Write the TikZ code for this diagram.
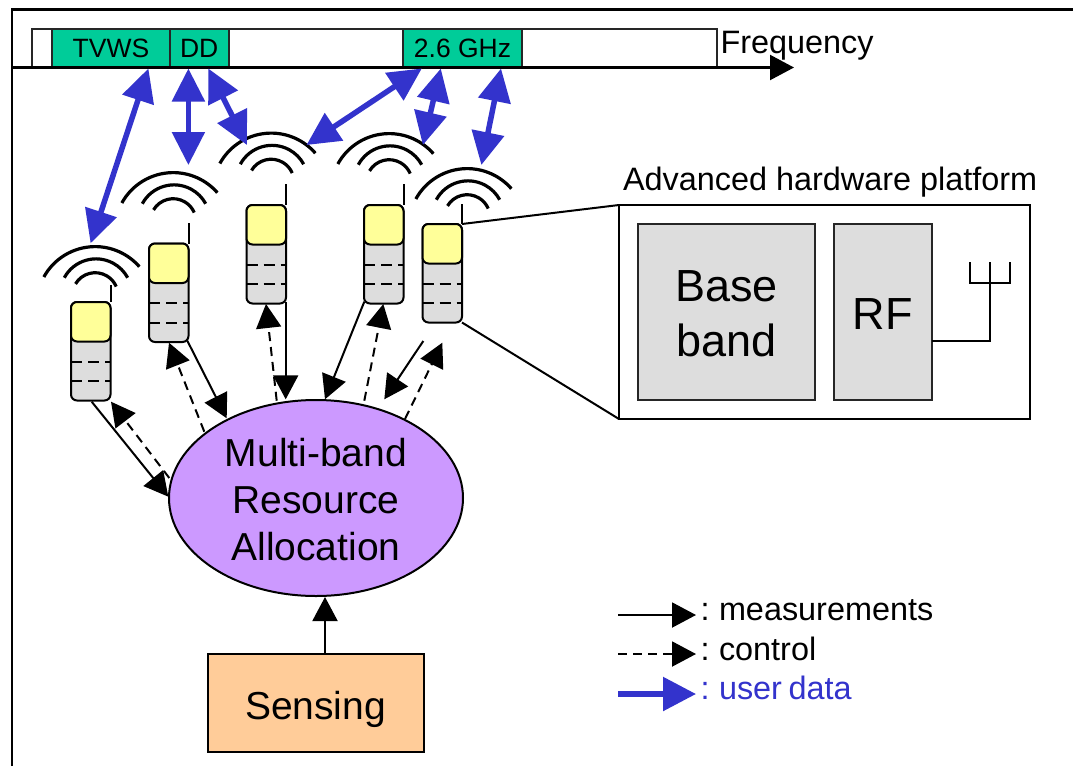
\documentclass[tikz,border=0pt]{standalone}
\usepackage{fontspec}
\setmainfont{Liberation Sans}
\usetikzlibrary{arrows.meta,shapes.geometric}
\definecolor{cgreen}{HTML}{00CC99}
\definecolor{cyellow}{HTML}{FFFF99}
\definecolor{cgray}{HTML}{DDDDDD}
\definecolor{cpurple}{HTML}{CC99FF}
\definecolor{corange}{HTML}{FFCC99}
\definecolor{cblue}{HTML}{3333CC}
\newcommand{\fs}[2]{\fontsize{#1}{#2}\selectfont}
\newcommand{\legfont}{\fontsize{32.4}{38}\selectfont\spaceskip 6.5pt\relax}
\tikzset{
  x=1pt,y=-1pt,
  every node/.style={outer sep=0pt},
  frameline/.style={draw=black,line width=2.2pt},
  band/.style={draw=black!85,line width=2pt,fill=cgreen,anchor=north west,minimum height=38.5pt,inner sep=0pt,text depth=0pt,font=\fs{26.5}{30}},
  graybox/.style={draw=black!85,line width=2pt,fill=cgray,anchor=north west,inner sep=0pt},
  boxtext/.style={inner sep=0pt,align=center,yshift=-2pt},
  solidarrow/.style={draw=black,line width=2pt,-{Triangle[length=24pt,width=25pt]}},
  dasharrow/.style={solidarrow,dash pattern=on 9pt off 6pt},
  bluearrow/.style={draw=cblue,line width=5.5pt,{Triangle[length=33pt,width=32pt]}-{Triangle[length=33pt,width=32pt]}},
  phonebody/.style={draw=black,line width=2pt,fill=cgray,rounded corners=6pt,anchor=north west,minimum width=39.5pt,minimum height=98.5pt,inner sep=0pt},
  phonetop/.style={draw=black,line width=2pt,fill=cyellow,rounded corners=6pt,anchor=north west,minimum width=39.5pt,minimum height=39.5pt,inner sep=0pt},
  thinline/.style={draw=black,line width=2pt},
  phonedash/.style={draw=black,line width=2pt,dash pattern=on 11pt off 6pt},
  wave/.style={draw=black,line width=3.2pt},
  label/.style={anchor=base west,inner sep=0pt,font=\fs{32.4}{38}},
  legendtext/.style={anchor=base west,inner sep=0pt,font=\legfont},
}
% #1 name, #2 x, #3 y, #4 antenna top y
\newcommand{\phone}[4]{%
  \draw[thinline] (#2+39.5,#3) -- (#2+39.5,#4);
  \node[phonebody] (#1) at (#2,#3) {};
  \draw[phonedash] (#2,#3+59.5) -- (#2+39.5,#3+59.5);
  \draw[phonedash] (#2,#3+79) -- (#2+39.5,#3+79);
  \node[phonetop] (#1top) at (#2,#3) {};
}
% wave symbol, shifted relative to the first one
\newcommand{\wifi}[2]{%
  \begin{scope}[shift={(#1,#2)}]
    \draw[wave] (95.2,305.2) ++(-151.2:58.6) arc[start angle=-151.2,end angle=-41.1,radius=58.6];
    \draw[wave] (96,294.9) ++(-151.5:36.05) arc[start angle=-151.5,end angle=-28.5,radius=36.05];
    \draw[wave] (95.2,295.6) ++(-149.3:22.9) arc[start angle=-149.3,end angle=-23.2,radius=22.9];
  \end{scope}
}
\begin{document}
\begin{tikzpicture}
\useasboundingbox (0,0) rectangle (1073,766);
\fill[white] (0,0) rectangle (1073,766);
% frame
\draw[frameline] (12,766) -- (12,9.5) -- (1073,9.5);
% frequency bar
\node[draw=black!85,line width=2pt,anchor=north west,minimum width=685pt,minimum height=38.5pt,inner sep=0pt] (bar) at (32,29) {};
\node[band,minimum width=118pt] (tvws) at (52,29) {TVWS};
\node[band,minimum width=58.5pt] (dd) at (170,29) {DD};
\node[band,minimum width=119pt] (ghz) at (403,29) {2.6 GHz};
\coordinate (axs) at (12,67.5);
\coordinate (axe) at (794,67.5);
\draw[solidarrow,line width=2.2pt] (axs) -- (axe);
\node[label] (freq) at (720.5,53) {Frequency};
% phones
\phone{p1}{71}{302}{285}
\phone{p2}{149}{243.5}{223}
\phone{p3}{246.5}{205}{184}
\phone{p4}{364}{205}{184}
\phone{p5}{422.5}{224}{204}
\wifi{0}{0}
\wifi{78}{-74}
\wifi{176}{-113.5}
\wifi{294}{-113}
\wifi{372}{-78}
% platform
\node[draw=black,line width=2pt,anchor=north west,minimum width=410.5pt,minimum height=214pt,inner sep=0pt] (plat) at (619,205) {};
\draw[thinline] (p5top.north east) -- (plat.north west);
\draw[thinline] (p5.south east) -- (plat.south west);
\node[label] (plabel) at (623,190) {Advanced hardware platform};
\node[graybox,minimum width=177pt,minimum height=176pt] (bb) at (638,224) {};
\node[boxtext,font=\fs{45}{55}] (bbt) at (bb.center) {Base\\band};
\node[graybox,minimum width=98.5pt,minimum height=176pt] (rf) at (833.5,224) {};
\node[boxtext,font=\fs{45}{55}] (rft) at (rf.center) {RF};
\coordinate (ant) at (990,262);
\coordinate (rfo) at (932,341);
\draw[thinline] (rfo) -- (990,341) -- (ant);
\draw[thinline] (970,262) -- (970,283) -- (1009.5,283) -- (1009.5,262);
% allocation ellipse and sensing
\node[ellipse,draw=black,line width=2pt,fill=cpurple,minimum width=294pt,minimum height=196pt,inner sep=0pt] (mra) at (316,498) {};
\node[boxtext,font=\fs{39}{47}] (mrat) at (mra.center) {Multi-band\\Resource\\Allocation};
\node[draw=black,line width=2pt,fill=corange,anchor=north west,minimum width=216pt,minimum height=98pt,inner sep=0pt] (sens) at (207.5,654) {};
\node[boxtext,text depth=0pt,font=\fs{39}{47}] (senst) at (sens.center) {Sensing};
\coordinate (sa) at (325,654);
\coordinate (sb) at (325,597);
\draw[solidarrow] (sa) -- (sb);
% measurement / control arrows
\coordinate (s1a) at (91.7,401.7); \coordinate (s1b) at (168.3,496.7);
\coordinate (d1a) at (169.3,478); \coordinate (d1b) at (111,401.7);
\coordinate (s2a) at (187.3,340.7); \coordinate (s2b) at (226.7,418.3);
\coordinate (d2a) at (204.3,431.7); \coordinate (d2b) at (169,342.7);
\coordinate (d3a) at (276.7,400.7); \coordinate (d3b) at (266,304);
\coordinate (s3a) at (285.7,301.7); \coordinate (s3b) at (285.7,399.3);
\coordinate (s4a) at (364.3,301.7); \coordinate (s4b) at (325,399.3);
\coordinate (d4a) at (364.3,400.7); \coordinate (d4b) at (383.3,304);
\coordinate (s5a) at (423.3,341); \coordinate (s5b) at (384.3,399.3);
\coordinate (d5a) at (405,419); \coordinate (d5b) at (442.3,342.7);
\foreach \n in {1,...,5} {
  \draw[solidarrow] (s\n a) -- (s\n b);
  \draw[dasharrow] (d\n a) -- (d\n b);
}
% user data arrows
\coordinate (b1a) at (148.4,68.5); \coordinate (b1b) at (90.6,243.3);
\coordinate (b2a) at (188.4,68.5); \coordinate (b2b) at (188.4,165);
\coordinate (b3a) at (208.3,68.5); \coordinate (b3b) at (247,145);
\coordinate (b4a) at (421.8,68.5); \coordinate (b4b) at (306.5,145);
\coordinate (b5a) at (440.8,68.5); \coordinate (b5b) at (422.9,145);
\coordinate (b6a) at (501,68.5); \coordinate (b6b) at (481.4,165);
\foreach \n in {1,...,6} {
  \draw[bluearrow] (b\n a) -- (b\n b);
}
% legend
\coordinate (l1a) at (618,615); \coordinate (l1b) at (696,615);
\coordinate (l2a) at (618,654); \coordinate (l2b) at (696,654);
\coordinate (l3a) at (618,694); \coordinate (l3b) at (696,694);
\draw[solidarrow] (l1a) -- (l1b);
\draw[dasharrow] (l2a) -- (l2b);
\draw[draw=cblue,line width=5.5pt,-{Triangle[length=33pt,width=33pt]}] (l3a) -- (l3b);
\node[legendtext] (t1) at (700.5,620.5) {: measurements};
\node[legendtext] (t2) at (700.5,660.5) {: control};
\node[legendtext,text=cblue] (t3) at (700.5,699) {: user data};
\end{tikzpicture}
\end{document}
